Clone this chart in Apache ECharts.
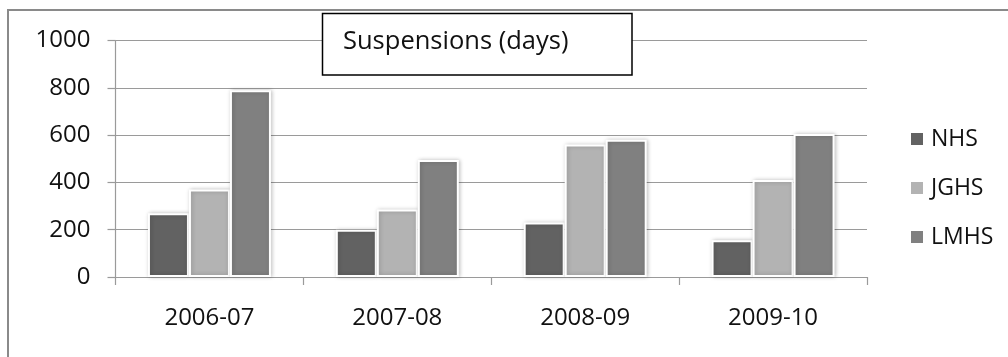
<!DOCTYPE html>
<html>
<head>
<meta charset="utf-8">
<style>
  html, body { margin: 0; padding: 0; background: #ffffff; }
  #chart { width: 1008px; height: 357px; }
</style>
<script src="https://cdn.jsdelivr.net/npm/echarts@6/dist/echarts.min.js"></script>
</head>
<body>
<div id="chart"></div>
<script>
// School years on the category axis
const years = ['2006-07', '2007-08', '2008-09', '2009-10'];

// Suspension days per school
const nhs  = [270, 200, 230, 155];
const jghs = [370, 285, 560, 410];
const lmhs = [790, 495, 580, 605];

// Value axis ticks
const yTicks = [0, 200, 400, 600, 800, 1000];

const titleText = 'Suspensions (days)';
const FONT = '"Open Sans", sans-serif';

const chart = echarts.init(document.getElementById('chart'), null, { renderer: 'canvas' });

function barSeries(name, data, color) {
  return {
    name: name,
    type: 'bar',
    data: data,
    barWidth: 41,
    barGap: '0%',
    itemStyle: {
      color: color,
      borderColor: '#ffffff',
      borderWidth: 2,
      shadowBlur: 4,
      shadowColor: 'rgba(0,0,0,0.22)',
      shadowOffsetX: 1,
      shadowOffsetY: 0
    },
    emphasis: { disabled: true }
  };
}

chart.setOption({
  animation: false,
  backgroundColor: '#ffffff',
  grid: { left: 115.5, right: 141, top: 40.5, bottom: 80, containLabel: false },
  legend: {
    orient: 'vertical',
    left: 904,
    top: 122,
    icon: 'rect',
    itemWidth: 14,
    itemHeight: 14,
    itemGap: 25,
    textStyle: { fontFamily: FONT, fontSize: 23, color: '#111111', lineHeight: 24, padding: [0, 0, 0, 2] },
    data: ['NHS', 'JGHS', 'LMHS']
  },
  xAxis: {
    type: 'category',
    data: years,
    boundaryGap: true,
    axisLine: { show: true, lineStyle: { color: '#9a9a9a', width: 1.2 } },
    axisTick: { show: true, length: 8, interval: 0, lineStyle: { color: '#9a9a9a', width: 1.2 } },
    axisLabel: { fontFamily: FONT, fontSize: 24, color: '#111111', margin: 29 },
    splitLine: { show: false }
  },
  yAxis: {
    type: 'value',
    min: yTicks[0],
    max: yTicks[yTicks.length - 1],
    interval: 200,
    axisLine: { show: true, lineStyle: { color: '#9a9a9a', width: 1.2 } },
    axisTick: { show: true, length: 8, inside: false, lineStyle: { color: '#9a9a9a', width: 1.2 } },
    axisLabel: {
      fontFamily: FONT, fontSize: 24, color: '#111111', margin: 25,
      formatter: function (v) { return String(v); }
    },
    splitLine: { show: true, lineStyle: { color: '#9a9a9a', width: 1.2 } }
  },
  series: [
    barSeries('NHS', nhs, '#626262'),
    barSeries('JGHS', jghs, '#b3b3b3'),
    barSeries('LMHS', lmhs, '#808080')
  ],
  graphic: [
    // chart-area frame
    {
      type: 'rect',
      silent: true,
      z: 100,
      shape: { x: 8, y: 10, width: 1100, height: 500 },
      style: { fill: 'none', stroke: '#8a8a8a', lineWidth: 2 }
    },
    // title box
    {
      type: 'rect',
      silent: true,
      z: 100,
      shape: { x: 322.5, y: 13.5, width: 309.5, height: 61.5 },
      style: { fill: '#ffffff', stroke: '#000000', lineWidth: 1.5 }
    },
    {
      type: 'text',
      silent: true,
      z: 101,
      x: 343,
      y: 42,
      style: {
        text: titleText,
        fontFamily: FONT,
        fontSize: 25.5,
        fill: '#111111',
        verticalAlign: 'middle',
        align: 'left'
      }
    }
  ]
});
</script>
</body>
</html>
